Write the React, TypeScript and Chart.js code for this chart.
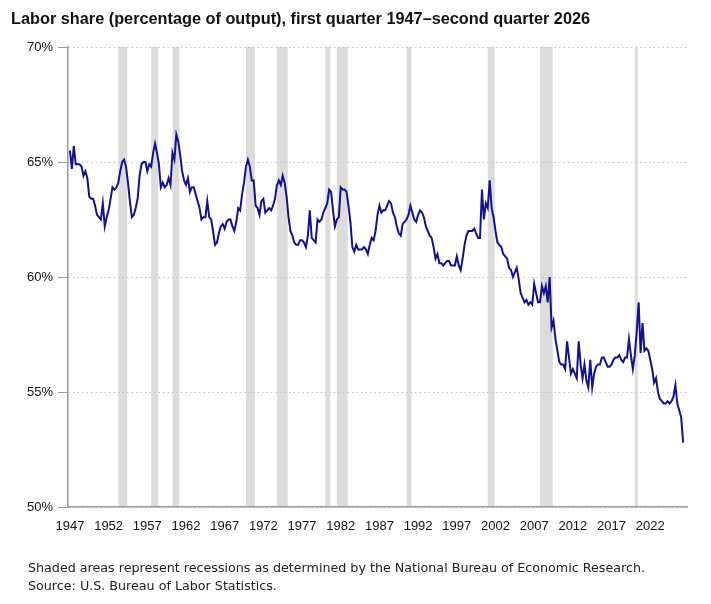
import { useEffect, useRef } from "react";
import { Chart, registerables } from "chart.js";

Chart.register(...registerables);

// Quarterly labor share (percent of output), 1947 Q1 – 2026 Q2
const firstYear = 1947;

const share1940s = [65.5, 64.7, 65.7, 64.9, 64.9, 64.9, 64.8, 64.4, 64.6, 64.3, 63.5, 63.4];
const share1950s = [
  63.4, 63.1, 62.7, 62.6, 62.5, 63.2, 62.2, 62.6, 62.9, 63.4, 63.9, 63.8,
  63.9, 64.1, 64.6, 65.0, 65.1, 64.8, 64.1, 63.3, 62.6, 62.7, 63.0, 63.4,
  64.4, 64.9, 65.0, 65.0, 64.6, 64.9, 64.8, 65.4, 65.8, 65.4, 64.9, 63.9,
  64.1, 63.9, 64.0, 64.3,
];
const share1960s = [
  64.0, 65.4, 65.1, 66.2, 65.9, 65.3, 64.6, 64.2, 64.0, 64.3, 63.7, 63.9,
  63.9, 63.6, 63.3, 63.0, 62.5, 62.6, 62.6, 63.3, 62.6, 62.5, 62.0, 61.4,
  61.5, 61.9, 62.2, 62.3, 62.1, 62.4, 62.5, 62.5, 62.2, 62.0, 62.4, 63.0,
  62.9, 63.6, 64.1, 64.8,
];
const share1970s = [
  65.1, 64.8, 64.2, 64.2, 63.1, 63.0, 62.7, 63.3, 63.4, 62.8, 62.9, 63.0,
  62.9, 63.1, 63.4, 64.0, 64.2, 64.0, 64.4, 64.1, 63.5, 62.6, 62.0, 61.8,
  61.5, 61.4, 61.4, 61.6, 61.6, 61.5, 61.3, 61.8, 62.9, 61.7, 61.6, 61.5,
  62.5, 62.4, 62.5, 62.8,
];
const share1980s = [
  63.0, 63.2, 63.8, 63.7, 62.9, 62.2, 62.5, 62.6, 63.9, 63.8, 63.8, 63.7,
  63.1, 62.4, 61.3, 61.1, 61.4, 61.2, 61.2, 61.2, 61.3, 61.2, 61.0, 61.4,
  61.7, 61.6, 62.0, 62.7, 63.1, 62.8, 62.9, 62.9, 63.1, 63.3, 63.2, 62.8,
  62.6, 62.2, 61.9, 61.8,
];
const share1990s = [
  62.3, 62.4, 62.5, 62.7, 63.1, 62.8, 62.5, 62.4, 62.7, 62.9, 62.8, 62.6,
  62.2, 62.0, 61.8, 61.7, 61.3, 60.8, 61.0, 60.6, 60.6, 60.5, 60.6, 60.7,
  60.7, 60.5, 60.5, 60.5, 60.9, 60.5, 60.3, 60.8, 61.4, 61.8, 62.0, 62.0,
  62.0, 62.1, 61.9, 61.7,
];
const share2000s = [
  61.7, 63.8, 62.5, 63.2, 63.0, 64.2, 63.0, 62.6, 62.0, 61.5, 61.4, 61.3,
  61.0, 60.9, 60.8, 60.4, 60.3, 60.0, 60.2, 60.4, 59.9, 59.3, 59.1, 58.9,
  59.0, 58.8, 58.9, 58.8, 59.7, 59.3, 58.9, 58.9, 59.6, 59.3, 59.6, 58.9,
  60.0, 57.8, 58.1, 57.3,
];
const share2010s = [
  56.8, 56.3, 56.2, 56.2, 56.0, 57.2, 56.5, 55.8, 56.0, 55.8, 55.6, 57.2,
  56.2, 55.6, 56.2, 55.5, 55.2, 56.4, 55.2, 55.8, 56.1, 56.2, 56.2, 56.5,
  56.5, 56.3, 56.1, 56.1, 56.2, 56.4, 56.5, 56.5, 56.6, 56.4, 56.3, 56.5,
  56.5, 57.3, 56.6, 56.0,
];
const share2020s = [
  56.6, 57.6, 58.9, 56.7, 58.0, 56.8, 56.9, 56.8, 56.4, 56.0, 55.4, 55.6,
  55.0, 54.7, 54.6, 54.5, 54.5, 54.6, 54.5, 54.6, 54.8, 55.3, 54.5, 54.2,
  53.9, 52.8,
];

const laborShare = [
  ...share1940s, ...share1950s, ...share1960s, ...share1970s, ...share1980s,
  ...share1990s, ...share2000s, ...share2010s, ...share2020s,
];

const quarterLabels = laborShare.map(
  (_, i) => `${firstYear + Math.floor(i / 4)} Q${(i % 4) + 1}`
);

const tickYears = [
  1947, 1952, 1957, 1962, 1967, 1972, 1977, 1982, 1987, 1992, 1997, 2002,
  2007, 2012, 2017, 2022,
];
const yTickValues = [50, 55, 60, 65, 70];

// NBER recessions shown as shaded areas (peak quarter, trough quarter)
const recessions: [string, string][] = [
  ["1953 Q2", "1954 Q2"],
  ["1957 Q3", "1958 Q2"],
  ["1960 Q2", "1961 Q1"],
  ["1969 Q4", "1970 Q4"],
  ["1973 Q4", "1975 Q1"],
  ["1980 Q1", "1980 Q3"],
  ["1981 Q3", "1982 Q4"],
  ["1990 Q3", "1991 Q1"],
  ["2001 Q1", "2001 Q4"],
  ["2007 Q4", "2009 Q2"],
  ["2020 Q1", "2020 Q2"],
];

const titleText =
  "Labor share (percentage of output), first quarter 1947–second quarter 2026";
const noteLines = [
  "Shaded areas represent recessions as determined by the National Bureau of Economic Research.",
  "Source: U.S. Bureau of Labor Statistics.",
];

const recessionPlugin = {
  id: "recessionBands",
  beforeDraw(chart: any) {
    const { ctx, chartArea, scales } = chart;
    const x = scales.x;
    ctx.save();
    ctx.fillStyle = "#dcdcdc";
    recessions.forEach(([s, e]) => {
      const si = quarterLabels.indexOf(s);
      const ei = quarterLabels.indexOf(e);
      const x1 = x.getPixelForValue(si);
      const x2 = x.getPixelForValue(ei + 0.6);
      ctx.fillRect(x1, chartArea.top, x2 - x1, chartArea.bottom - chartArea.top);
    });
    ctx.restore();
  },
};

export default function App() {
  const canvasRef = useRef<HTMLCanvasElement | null>(null);

  useEffect(() => {
    if (!canvasRef.current) return;
    const chart = new Chart(canvasRef.current, {
      type: "line",
      data: {
        datasets: [
          {
            data: laborShare.map((v, i) => ({ x: i, y: v })),
            borderColor: "#12128a",
            borderWidth: 2,
            pointRadius: 0,
            tension: 0,
            fill: false,
          },
        ],
      },
      options: {
        responsive: false,
        animation: false,
        devicePixelRatio: 1,
        layout: { padding: { left: 0, right: 24, top: 47, bottom: 67 } },
        plugins: {
          legend: { display: false },
          tooltip: { enabled: false },
        },
        scales: {
          x: {
            type: "linear",
            min: -1,
            max: 319,
            afterBuildTicks: (axis: any) => {
              axis.ticks = tickYears.map((y) => ({
                value: quarterLabels.indexOf(`${y} Q1`),
              }));
            },
            afterFit: (axis: any) => {
              axis.height = 30;
            },
            ticks: {
              autoSkip: false,
              maxRotation: 0,
              padding: 12,
              color: "#111",
              font: { family: "Liberation Sans", size: 13 },
              callback: (value: any) => quarterLabels[value as number]?.slice(0, 4) ?? "",
            },
            grid: { display: false, drawTicks: false },
            border: { display: true, color: "#9a9a9a", width: 1.5 },
          },
          y: {
            type: "linear",
            min: 50,
            max: 70,
            afterBuildTicks: (axis: any) => {
              axis.ticks = yTickValues.map((v) => ({ value: v }));
            },
            afterFit: (axis: any) => {
              axis.width = 68;
            },
            ticks: {
              padding: 5,
              color: "#111",
              font: { family: "Liberation Sans", size: 13 },
              callback: (value: any) => `${value}%`,
            },
            grid: {
              color: "#c4c4c4",
              lineWidth: 1,
              tickLength: 10,
              tickColor: "#9a9a9a",
              tickWidth: 1,
              tickBorderDash: [],
            },
            border: { display: true, color: "#9a9a9a", width: 1.5, dash: [1.5, 3] },
          },
        },
      },
      plugins: [recessionPlugin],
    });
    return () => chart.destroy();
  }, []);

  return (
    <div
      style={{
        position: "absolute",
        left: 0,
        top: 0,
        width: 711,
        height: 604,
        background: "#fff",
        overflow: "hidden",
      }}
    >
      <canvas
        ref={canvasRef}
        width={711}
        height={604}
        style={{ position: "absolute", left: 0, top: 0, width: 711, height: 604 }}
      />
      <div
        style={{
          position: "absolute",
          left: 11,
          top: 8,
          fontFamily: "Liberation Sans",
          fontWeight: "bold",
          fontSize: 16.3,
          lineHeight: "20px",
          color: "#111",
          whiteSpace: "nowrap",
        }}
      >
        {titleText}
      </div>
      <div
        style={{
          position: "absolute",
          left: 28,
          top: 559,
          fontFamily: "DejaVu Sans",
          fontSize: 12.7,
          lineHeight: "18px",
          color: "#222",
          whiteSpace: "nowrap",
        }}
      >
        {noteLines.map((l) => (
          <div key={l}>{l}</div>
        ))}
      </div>
    </div>
  );
}
